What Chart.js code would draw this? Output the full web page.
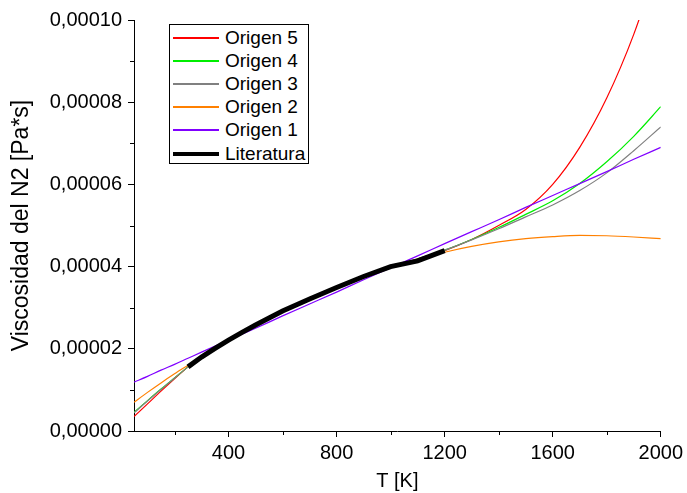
<!DOCTYPE html>
<html lang="es">
<head>
<meta charset="utf-8">
<title>Viscosidad del N2</title>
<script src="https://cdn.jsdelivr.net/npm/chart.js@4.4.1/dist/chart.umd.min.js"></script>
<style>
  html, body { margin: 0; padding: 0; background: #fff; }
  #wrap { position: relative; width: 687px; height: 493px; }
  #legend {
    position: absolute; left: 169px; top: 24px; width: 140px; height: 140px;
    box-sizing: border-box; border: 1px solid #000; background: #fff;
    font-family: "Liberation Sans", Arial, sans-serif; font-size: 19px; color: #000;
    padding-top: 1px;
  }
  .row { display: flex; align-items: center; height: 23.2px; white-space: nowrap; }
  .swatch { width: 46px; margin-left: 3px; margin-right: 6px; flex: none; }
</style>
</head>
<body>
<div id="wrap">
  <canvas id="myChart"></canvas>
  <div id="legend"></div>
</div>
<script>
'use strict';

// temperatures (K) where the fitted curves are sampled
const tempFit = [50, 100, 150, 200, 250, 300, 400, 500, 600, 700, 800, 900, 1000,
  1100, 1200, 1300, 1400, 1500, 1600, 1700, 1800, 1900, 2000];

// fitted viscosities, Pa*s
const origen5 = [0.35e-5, 0.66e-5, 0.97e-5, 1.27e-5, 1.56e-5, 1.83e-5, 2.23e-5, 2.59e-5, 2.92e-5,
  3.22e-5, 3.50e-5, 3.76e-5, 3.99e-5, 4.18e-5, 4.39e-5, 4.66e-5, 5.00e-5, 5.39e-5, 6.00e-5,
  6.90e-5, 8.10e-5, 9.65e-5, 11.6e-5];
const origen4 = [0.455e-5, 0.74e-5, 1.02e-5, 1.29e-5, 1.56e-5, 1.82e-5, 2.23e-5, 2.59e-5, 2.92e-5,
  3.22e-5, 3.50e-5, 3.76e-5, 3.99e-5, 4.19e-5, 4.40e-5, 4.66e-5, 4.95e-5, 5.27e-5, 5.60e-5,
  6.02e-5, 6.55e-5, 7.17e-5, 7.89e-5];
const origen3 = [0.44e-5, 0.73e-5, 1.01e-5, 1.29e-5, 1.56e-5, 1.82e-5, 2.23e-5, 2.59e-5, 2.92e-5,
  3.22e-5, 3.50e-5, 3.76e-5, 3.99e-5, 4.19e-5, 4.40e-5, 4.65e-5, 4.92e-5, 5.21e-5, 5.50e-5,
  5.85e-5, 6.28e-5, 6.82e-5, 7.40e-5];
const origen2 = [0.70e-5, 0.94e-5, 1.17e-5, 1.39e-5, 1.60e-5, 1.81e-5, 2.21e-5, 2.58e-5, 2.92e-5,
  3.23e-5, 3.51e-5, 3.76e-5, 3.99e-5, 4.18e-5, 4.35e-5, 4.49e-5, 4.60e-5, 4.68e-5, 4.73e-5,
  4.76e-5, 4.75e-5, 4.72e-5, 4.68e-5];
const origen1 = [1.19e-5, 1.33e-5, 1.48e-5, 1.62e-5, 1.77e-5, 1.92e-5, 2.21e-5, 2.50e-5, 2.80e-5,
  3.09e-5, 3.38e-5, 3.68e-5, 3.97e-5, 4.26e-5, 4.56e-5, 4.85e-5, 5.14e-5, 5.44e-5, 5.73e-5,
  6.02e-5, 6.31e-5, 6.61e-5, 6.90e-5];

// tabulated values
const tempLit = [250, 300, 350, 400, 450, 500, 550, 600, 700, 800, 900, 1000, 1100, 1200];
const literatura = [1.56e-5, 1.80e-5, 2.01e-5, 2.21e-5, 2.40e-5, 2.58e-5, 2.75e-5, 2.92e-5,
  3.21e-5, 3.49e-5, 3.76e-5, 4.00e-5, 4.14e-5, 4.39e-5];

// axis ticks
const xTicks = [400, 800, 1200, 1600, 2000];
const yTicks = [0, 2e-5, 4e-5, 6e-5, 8e-5, 1e-4];
const minorX = [200, 600, 1000, 1400, 1800];
const minorY = [1e-5, 3e-5, 5e-5, 7e-5, 9e-5];

const fontFamily = '"Liberation Sans", Arial, sans-serif';

function points(xs, ys) {
  return xs.map((t, i) => ({ x: t, y: ys[i] }));
}

// legend order, top to bottom
const series = [
  { label: 'Origen 5', color: '#ff0000', width: 1.2, data: points(tempFit, origen5) },
  { label: 'Origen 4', color: '#00ee00', width: 1.2, data: points(tempFit, origen4) },
  { label: 'Origen 3', color: '#808080', width: 1.2, data: points(tempFit, origen3) },
  { label: 'Origen 2', color: '#ff8000', width: 1.2, data: points(tempFit, origen2) },
  { label: 'Origen 1', color: '#8000ff', width: 1.2, data: points(tempFit, origen1) },
  { label: 'Literatura', color: '#000000', width: 5, data: points(tempLit, literatura), straight: true },
];

insertLegend();
function insertLegend() {
  const box = document.querySelector('#legend');
  box.innerHTML = series
    .map(
      (s) => `<div class="row"><div class="swatch" style="height:${s.width > 2 ? 4 : 2}px;background-color:${s.color}"></div><span>${s.label}</span></div>`
    )
    .join('');
}

const minorTicks = {
  id: 'minorTicks',
  afterDraw(chart) {
    const { ctx } = chart;
    const { x, y } = chart.scales;
    ctx.save();
    ctx.strokeStyle = '#000';
    ctx.lineWidth = 1;
    ctx.beginPath();
    minorX.forEach((v) => {
      const px = Math.round(x.getPixelForValue(v)) + 0.5;
      ctx.moveTo(px, x.top);
      ctx.lineTo(px, x.top + 4);
    });
    minorY.forEach((v) => {
      const py = Math.round(y.getPixelForValue(v)) + 0.5;
      ctx.moveTo(y.right, py);
      ctx.lineTo(y.right - 4, py);
    });
    ctx.stroke();
    ctx.restore();
  },
};

lineChart();
function lineChart() {
  // Literatura goes first so it is painted on top of the fits
  const datasets = series
    .slice()
    .reverse()
    .map((s, i) => ({
      label: s.label,
      data: s.data,
      borderColor: s.color,
      backgroundColor: s.color,
      borderWidth: s.width,
      pointRadius: 0,
      fill: false,
      tension: s.straight ? 0 : 0.4,
      cubicInterpolationMode: s.straight ? 'default' : 'monotone',
      order: s.straight ? 0 : i,
    }));

  const config = {
    type: 'line',
    data: { datasets },
    options: {
      responsive: true,
      maintainAspectRatio: false,
      animation: false,
      layout: { padding: { top: 20, right: 26, bottom: 0, left: 0 } },
      plugins: {
        legend: { display: false },
        tooltip: { enabled: false },
      },
      scales: {
        x: {
          type: 'linear',
          min: 50,
          max: 2000,
          afterBuildTicks(scale) {
            scale.ticks = xTicks.map((v) => ({ value: v }));
          },
          afterFit(scale) {
            scale.height = 62;
          },
          border: { display: true, color: '#000', width: 1 },
          grid: { drawOnChartArea: false, drawTicks: true, tickLength: 6, color: '#000' },
          ticks: {
            maxRotation: 0,
            autoSkip: false,
            padding: 4,
            color: '#000',
            font: { family: fontFamily, size: 20 },
            callback: (v) => String(v),
          },
          title: {
            display: true,
            text: 'T [K]',
            color: '#000',
            font: { family: fontFamily, size: 20 },
            padding: { top: 0, bottom: 0 },
          },
        },
        y: {
          type: 'linear',
          min: 0,
          max: 0.0001,
          afterBuildTicks(scale) {
            scale.ticks = yTicks.map((v) => ({ value: v }));
          },
          afterFit(scale) {
            scale.width = 134;
          },
          border: { display: true, color: '#000', width: 1 },
          grid: { drawOnChartArea: false, drawTicks: true, tickLength: 6, color: '#000' },
          ticks: {
            autoSkip: false,
            padding: 6,
            color: '#000',
            font: { family: fontFamily, size: 20 },
            callback: (v) => Number(v).toFixed(5).replace('.', ','),
          },
          title: {
            display: true,
            text: 'Viscosidad del N2 [Pa*s]',
            color: '#000',
            font: { family: fontFamily, size: 23 },
            padding: { top: 8, bottom: 0 },
          },
        },
      },
    },
    plugins: [minorTicks],
  };
  const myChart = new Chart(document.getElementById('myChart'), config);
}
</script>
</body>
</html>
